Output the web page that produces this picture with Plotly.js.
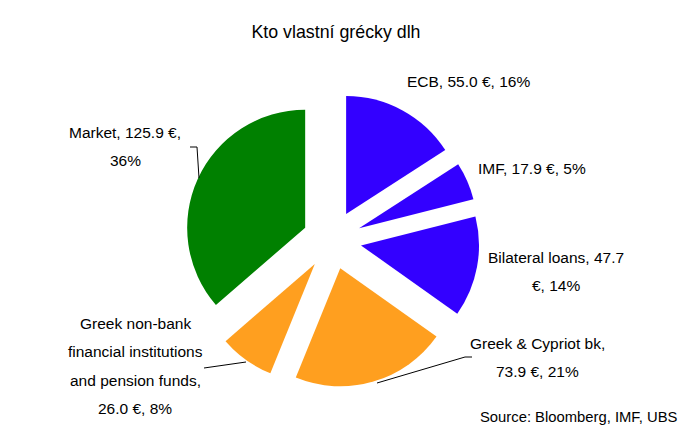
<!DOCTYPE html>
<html>
<head>
<meta charset="utf-8">
<script src="https://cdn.plot.ly/plotly-3.0.1.min.js"></script>
<style>html,body{margin:0;padding:0;background:#fff;}#chart{width:700px;height:434px;}</style>
</head>
<body>
<div id="chart"></div>
<script>
// ---- data ----
const categories = ["ECB", "IMF", "Bilateral loans", "Greek & Cypriot bk", "Greek non-bank financial institutions and pension funds", "Market"];
const values = [55.0, 17.9, 47.7, 73.9, 26.0, 125.9];
const colors = ["#3300FF", "#3300FF", "#3300FF", "#FF9F1F", "#FF9F1F", "#008000"];
// words per line of each slice label
const wrapWords = [[4], [4], [3, 2], [4, 3], [2, 2, 3, 3], [3, 1]];
const titleText = "Kto vlastní grécky dlh";
const sourceText = "Source: Bloomberg, IMF, UBS";

// ---- layout positions (px) ----
const W = 700, H = 434;
const labelPos = [
  {x: 468, y: 81},
  {x: 532, y: 168},
  {x: 556, y: 257},
  {x: 537, y: 343},
  {x: 135, y: 323},
  {x: 125, y: 132}
];
const lineGap = 28.5;
const leaders = [
  [[190, 147], [197, 147], [199, 178]],
  [[204, 368], [246, 362]],
  [[377, 383], [465, 357], [472, 357]]
];

const total = values.reduce((a, b) => a + b, 0);
const fullTexts = categories.map((c, i) =>
  `${c}, ${values[i].toFixed(1)} €, ${Math.round(values[i] / total * 100)}%`);

const fontFam = "Liberation Sans, Arial, sans-serif";
const annotations = [];
fullTexts.forEach((t, i) => {
  const words = t.split(" ");
  let k = 0;
  wrapWords[i].forEach((n, j) => {
    const line = words.slice(k, k + n).join(" ");
    k += n;
    annotations.push({
      xref: "paper", yref: "paper",
      x: labelPos[i].x / W, y: 1 - (labelPos[i].y + j * lineGap) / H,
      xanchor: "center", yanchor: "middle",
      text: line, showarrow: false,
      font: {family: fontFam, size: 15.5, color: "#000"}
    });
  });
});
annotations.push({
  xref: "paper", yref: "paper", x: 578 / W, y: 1 - 417 / H,
  xanchor: "center", yanchor: "middle", text: sourceText, showarrow: false,
  font: {family: fontFam, size: 14.8, color: "#000"}
});

const shapes = leaders.map(pts => ({
  type: "path", xref: "paper", yref: "paper",
  path: pts.map((p, j) => (j ? "L" : "M") + (p[0] / W) + "," + (1 - p[1] / H)).join(" "),
  line: {color: "#000", width: 1}
}));

const cx = 332, cy = 240, r = 118, pull = 0.25;
const half = r * (1 + pull);
const trace = {
  type: "pie",
  labels: categories,
  values: values,
  sort: false,
  direction: "clockwise",
  rotation: 0,
  pull: values.map(() => pull),
  marker: {colors: colors, line: {width: 0}},
  textinfo: "none",
  hoverinfo: "label+value+percent",
  showlegend: false,
  domain: {x: [(cx - half) / W, (cx + half) / W], y: [1 - (cy + half) / H, 1 - (cy - half) / H]}
};

const layout = {
  width: W, height: H,
  margin: {l: 0, r: 0, t: 0, b: 0},
  paper_bgcolor: "#fff",
  showlegend: false,
  title: {text: titleText, x: 336 / W, xanchor: "center", y: 1 - 32 / H, yanchor: "middle",
          font: {family: fontFam, size: 17.8, color: "#000"}},
  annotations: annotations,
  shapes: shapes
};

Plotly.newPlot("chart", [trace], layout, {displayModeBar: false, staticPlot: true});
</script>
</body>
</html>
